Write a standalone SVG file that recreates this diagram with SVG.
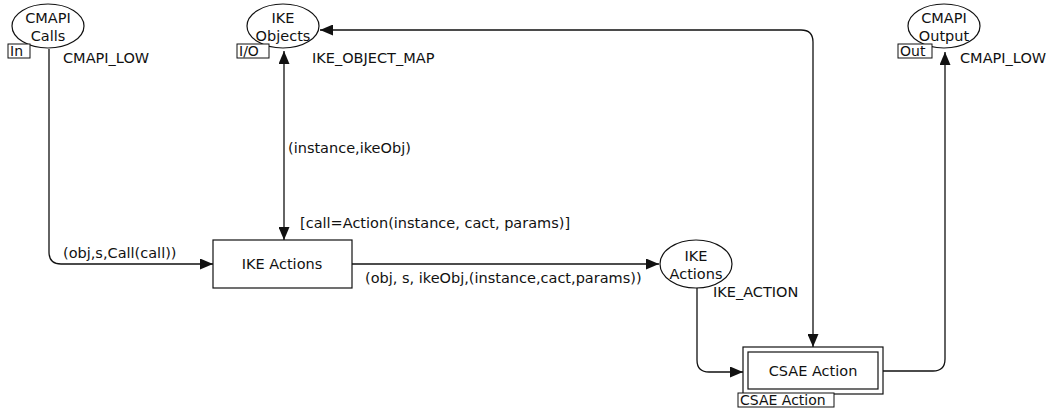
<svg xmlns="http://www.w3.org/2000/svg" width="1054" height="412" viewBox="0 0 1054 412">
<style>
text{font-family:"DejaVu Sans",Verdana,sans-serif;font-size:14.5px;fill:#111}
.c{text-anchor:middle}
.tag{font-size:14px}
.n{fill:#fff;stroke:#111;stroke-width:1.2}
.t{fill:#fff;stroke:#111;stroke-width:1}
.e{fill:none;stroke:#111;stroke-width:1.3}
</style>
<defs>
<marker id="a" viewBox="0 0 13 11" refX="13" refY="5.5" markerWidth="13" markerHeight="11" markerUnits="userSpaceOnUse" orient="auto-start-reverse">
<path d="M0,0 L13,5.5 L0,11 Z" fill="#111"/>
</marker>
</defs>
<g id="connectors">
<path class="e" d="M49,49 V252 Q49,264 61,264 H213" marker-end="url(#a)"/>
<path class="e" d="M284,51 V240" marker-start="url(#a)" marker-end="url(#a)"/>
<path class="e" d="M352,264 H659" marker-end="url(#a)"/>
<path class="e" d="M697,288 V360 Q697,372 709,372 H743" marker-end="url(#a)"/>
<path class="e" d="M320,30 H801 Q813,30 813,42 V347" marker-start="url(#a)" marker-end="url(#a)"/>
<path class="e" d="M883,371 H933 Q945,371 945,359 V52" marker-end="url(#a)"/>
<text x="63" y="258">(obj,s,Call(call))</text>
<text x="288" y="153">(instance,ikeObj)</text>
<text x="365" y="283">(obj, s, ikeObj,(instance,cact,params))</text>
</g>
<g id="cmapi-calls">
<ellipse class="n" cx="48" cy="26" rx="36" ry="22"/>
<text class="c" x="48" y="23">CMAPI</text>
<text class="c" x="48" y="41">Calls</text>
<rect class="t" x="8" y="44" width="22" height="14"/>
<text class="tag" x="10" y="56">In</text>
<text x="63" y="63">CMAPI_LOW</text>
</g>
<g id="ike-objects">
<ellipse class="n" cx="283" cy="26" rx="36" ry="22"/>
<text class="c" x="283" y="23">IKE</text>
<text class="c" x="283" y="41">Objects</text>
<rect class="t" x="237" y="44" width="32" height="14"/>
<text class="tag" x="239" y="56">I/O</text>
<text x="312" y="63">IKE_OBJECT_MAP</text>
</g>
<g id="cmapi-output">
<ellipse class="n" cx="944" cy="26" rx="36" ry="22"/>
<text class="c" x="944" y="23">CMAPI</text>
<text class="c" x="944" y="41">Output</text>
<rect class="t" x="898" y="44" width="34" height="14"/>
<text class="tag" x="900" y="56">Out</text>
<text x="960" y="63">CMAPI_LOW</text>
</g>
<g id="ike-actions-trans">
<rect class="n" x="213" y="240" width="139" height="48"/>
<text class="c" x="282" y="269">IKE Actions</text>
<text x="300" y="228">[call=Action(instance, cact, params)]</text>
</g>
<g id="ike-actions-place">
<ellipse class="n" cx="696" cy="264" rx="36" ry="24"/>
<text class="c" x="696" y="261">IKE</text>
<text class="c" x="696" y="279">Actions</text>
<text x="713" y="297">IKE_ACTION</text>
</g>
<g id="csae-action">
<rect class="n" x="743" y="347" width="140" height="47"/>
<rect class="n" x="748" y="352" width="130" height="37"/>
<text class="c" x="813" y="376">CSAE Action</text>
<rect class="t" x="738" y="393" width="96" height="14"/>
<text class="tag" x="740" y="405">CSAE Action</text>
</g>
</svg>
